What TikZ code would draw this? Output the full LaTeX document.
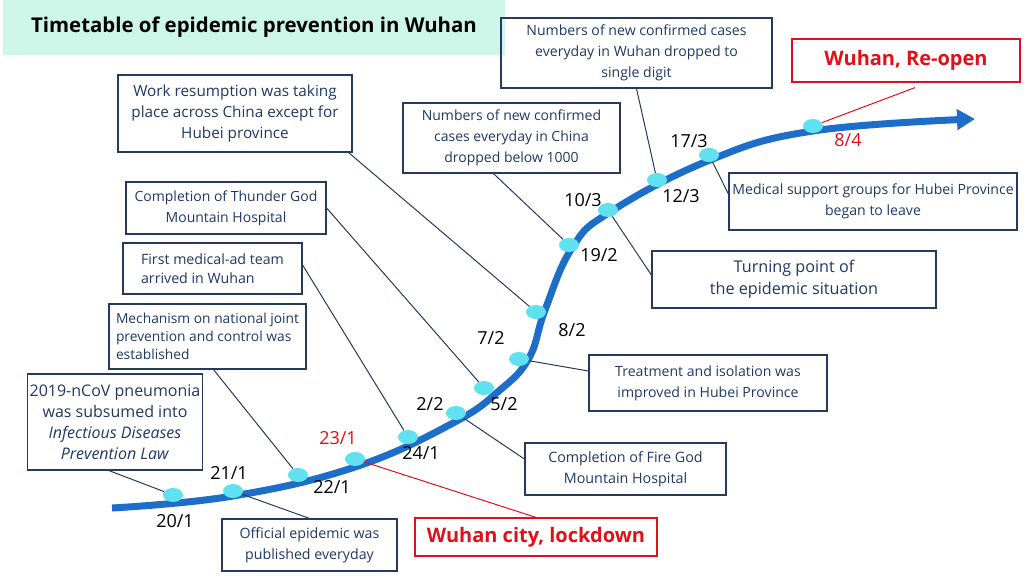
\documentclass[tikz,border=0pt]{standalone}
\usepackage{fontspec}
\setmainfont{Open Sans}
\usetikzlibrary{shapes.geometric, arrows.meta}

\definecolor{navy}{RGB}{37,58,94}
\definecolor{boxtext}{RGB}{31,56,100}
\definecolor{curveblue}{RGB}{28,110,200}
\definecolor{dotcyan}{RGB}{95,225,240}
\definecolor{mint}{RGB}{206,246,232}
\definecolor{alertred}{RGB}{224,16,24}

\begin{document}
\begin{tikzpicture}[x=1pt, y=-1pt,
    event/.style={draw=navy, line width=1.2pt, text=boxtext, align=center, inner sep=2pt},
    alert/.style={draw=alertred, line width=1.2pt, text=alertred, font=\fontsize{20}{24}\selectfont\bfseries},
    dot/.style={ellipse, fill=dotcyan, minimum width=20pt, minimum height=14pt, inner sep=0pt},
    date/.style={font=\fontsize{18}{20}\selectfont},
    link/.style={draw=navy, line width=1pt},
    redlink/.style={draw=alertred, line width=1pt}]
    \useasboundingbox (0,0) rectangle (1024,576);

    % title
    \node[fill=mint, minimum width=502pt, minimum height=55pt, font=\fontsize{20.4}{24}\selectfont\bfseries] (title) at (254,27.5) {Timetable of epidemic prevention in Wuhan};

    % timeline
    \draw[curveblue, line width=7pt, -{Triangle[length=18pt, width=20pt]}] plot[smooth, tension=0.7] coordinates {(112,508) (233,496) (355,467) (453,423) (500,390) (529,358) (545,310) (572,248) (610,212) (710,160) (813,131) (975,119)};

    \foreach \n/\x/\y in {d201/173/495, d211/233/491, d221/298/475, d231/355/459, d241/408/437,
        d22/456/413, d52/484/388, d72/519/359, d82/536/312, d192/569/245,
        d103/608/210, d123/657/180, d173/709/155, d84/813/126}
        \node[dot] (\n) at (\x,\y) {};

    % dates
    \node[date] (l201) at (175,521) {20/1};
    \node[date] (l211) at (229,473) {21/1};
    \node[date] (l221) at (332,487) {22/1};
    \node[date, text=alertred] (l231) at (338,438) {23/1};
    \node[date] (l241) at (421,453) {24/1};
    \node[date] (l22) at (430,404) {2/2};
    \node[date] (l52) at (504,404) {5/2};
    \node[date] (l72) at (491,338) {7/2};
    \node[date] (l82) at (572,330) {8/2};
    \node[date] (l192) at (599,255) {19/2};
    \node[date] (l103) at (583,200) {10/3};
    \node[date] (l123) at (681,196) {12/3};
    \node[date] (l173) at (689,141) {17/3};
    \node[date, text=alertred] (l84) at (848,140) {8/4};

    % events
    \node[event, minimum width=174pt, minimum height=96pt, font=\fontsize{16}{21}\selectfont] (b2019) at (115,422) {2019-nCoV pneumonia\\was subsumed into\\\textit{Infectious Diseases}\\\textit{Prevention Law}};
    \node[event, align=left, minimum width=197pt, minimum height=65pt, font=\fontsize{13.8}{18}\selectfont] (bmech) at (207.5,336.5) {Mechanism on national joint\\prevention and control was\\established};
    \node[event, minimum width=175pt, minimum height=52pt, font=\fontsize{14.2}{21}\selectfont] (boff) at (309.5,545) {Official epidemic was\\published everyday};
    \node[event, align=left, minimum width=179pt, minimum height=51pt, font=\fontsize{14.2}{19}\selectfont] (bfirst) at (212.5,268.5) {First medical-ad team\\arrived in Wuhan};
    \node[event, minimum width=200pt, minimum height=52pt, font=\fontsize{14}{21}\selectfont] (bthunder) at (226,208) {Completion of Thunder God\\Mountain Hospital};
    \node[event, minimum width=234pt, minimum height=77pt, font=\fontsize{15.3}{21}\selectfont] (bwork) at (235,113.5) {Work resumption was taking\\place across China except for\\Hubei province};
    \node[event, minimum width=217pt, minimum height=70pt, font=\fontsize{14}{21}\selectfont] (bchina) at (511.5,138) {Numbers of new confirmed\\cases everyday in China\\dropped below 1000};
    \node[event, minimum width=271pt, minimum height=70pt, font=\fontsize{14.1}{21}\selectfont] (bwuhan) at (636.5,53) {Numbers of new confirmed cases\\everyday in Wuhan dropped to\\single digit};
    \node[alert, minimum width=228pt, minimum height=43pt] (breopen) at (906,60.5) {Wuhan, Re-open};
    \node[event, minimum width=288pt, minimum height=57pt, font=\fontsize{14.1}{21}\selectfont] (bmedical) at (873,201.5) {Medical support groups for Hubei Province\\began to leave};
    \node[event, minimum width=284pt, minimum height=57pt, font=\fontsize{16.2}{22}\selectfont] (bturn) at (794,279.5) {Turning point of\\the epidemic situation};
    \node[event, minimum width=238pt, minimum height=56pt, font=\fontsize{14.1}{21}\selectfont] (btreat) at (708,383) {Treatment and isolation was\\improved in Hubei Province};
    \node[event, minimum width=201pt, minimum height=52pt, font=\fontsize{14.3}{21}\selectfont] (bfire) at (625.5,469) {Completion of Fire God\\Mountain Hospital};
    \node[alert, minimum width=242pt, minimum height=38pt] (block) at (536,537) {Wuhan city, lockdown};

    % connectors
    \draw[link] ([xshift=-6pt]b2019.south) -- (d201);
    \draw[link] (d211) -- (boff.north);
    \draw[link] ([xshift=6pt]bmech.south) -- (d221);
    \draw[redlink] (d231) -- (block.north);
    \draw[link] ([yshift=3.5pt]bfirst.east) -- (d241);
    \draw[link] (d22) -- ([yshift=10pt]bfire.west);
    \draw[link] (bthunder.east) -- (d52);
    \draw[link] (d72) -- ([yshift=12pt]btreat.west);
    \draw[link] ([xshift=-4pt]bwork.south east) -- (d82);
    \draw[link] ([xshift=-18pt]bchina.south) -- (d192);
    \draw[link] (d103) -- ([yshift=4.5pt]bturn.west);
    \draw[link] (bwuhan.south) -- (d123);
    \draw[link] (d173) -- ([yshift=7.5pt]bmedical.west);
    \draw[redlink] ([xshift=9pt, yshift=-5pt]breopen.south) -- (d84);
\end{tikzpicture}
\end{document}
